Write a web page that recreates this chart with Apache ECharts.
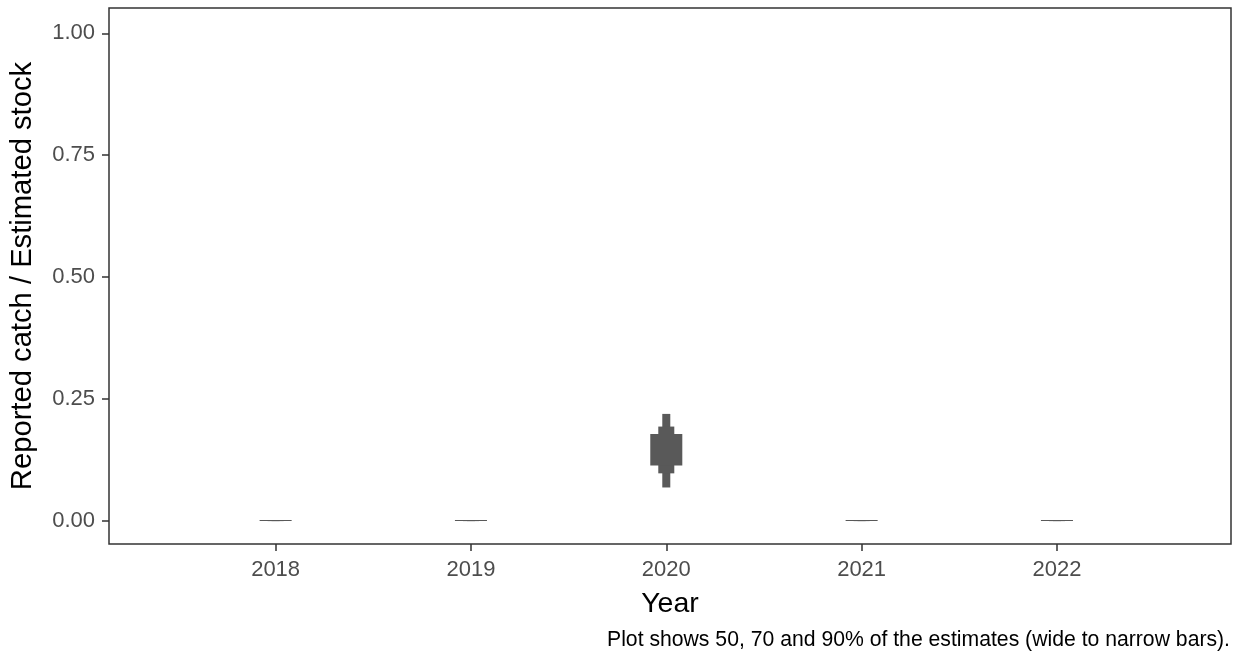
<!DOCTYPE html>
<html>
<head>
<meta charset="utf-8">
<script src="https://cdn.jsdelivr.net/npm/echarts@6/dist/echarts.min.js"></script>
<style>
html,body{margin:0;padding:0;background:#fff;}
#chart{width:1236px;height:654px;}
</style>
</head>
<body>
<div id="chart"></div>
<script>
// Data
const years = [2018, 2019, 2020, 2021, 2022];
const lo90 = [0, 0, 0.068, 0, 0];
const hi90 = [0, 0, 0.219, 0, 0];
const lo70 = [0, 0, 0.097, 0, 0];
const hi70 = [0, 0, 0.193, 0, 0];
const lo50 = [0, 0, 0.113, 0, 0];
const hi50 = [0, 0, 0.178, 0, 0];
const yTicks = [0, 0.25, 0.5, 0.75, 1];
const xTicks = [2018, 2019, 2020, 2021, 2022];

const FONT = '"Liberation Sans", Arial, sans-serif';
// bar widths in years: wide (50%), medium (70%), narrow (90%)
const widths = {w50: 0.164, w70: 0.082, w90: 0.041};

const rows = [];
years.forEach((y, i) => {
  rows.push([y, lo90[i], hi90[i], widths.w90]);
  rows.push([y, lo70[i], hi70[i], widths.w70]);
  rows.push([y, lo50[i], hi50[i], widths.w50]);
});

const chart = echarts.init(document.getElementById('chart'), null, {renderer: 'canvas'});
chart.setOption({
  animation: false,
  backgroundColor: '#fff',
  grid: {left: 109, right: 5, top: 8, bottom: 110, show: true, borderColor: '#333333', borderWidth: 1.5, backgroundColor: 'transparent'},
  xAxis: {
    type: 'value', min: 2017.147, max: 2022.891,
    name: 'Year', nameLocation: 'middle', nameGap: 46,
    nameTextStyle: {fontFamily: FONT, fontSize: 28.5, color: '#000'},
    axisLine: {show: false, onZero: false},
    splitLine: {show: false},
    axisTick: {show: true, length: 7, lineStyle: {color: '#333333', width: 1.5}, customValues: xTicks},
    axisLabel: {fontFamily: FONT, fontSize: 22, color: '#4d4d4d', margin: 15, customValues: xTicks, formatter: v => String(v)}
  },
  yAxis: {
    type: 'value', min: -0.048, max: 1.052,
    name: 'Reported catch / Estimated stock', nameLocation: 'middle', nameGap: 72, nameRotate: 90,
    nameTextStyle: {fontFamily: FONT, fontSize: 29.2, color: '#000'},
    axisLine: {show: false, onZero: false},
    splitLine: {show: false},
    axisTick: {show: true, length: 7, lineStyle: {color: '#333333', width: 1.5}, customValues: yTicks},
    axisLabel: {fontFamily: FONT, fontSize: 22, color: '#4d4d4d', margin: 14, customValues: yTicks, formatter: v => v.toFixed(2)}
  },
  series: [{
    type: 'custom',
    data: rows,
    renderItem: function (params, api) {
      const x = api.value(0), lo = api.value(1), hi = api.value(2), w = api.value(3);
      const pLo = api.coord([x, lo]);
      const pHi = api.coord([x, hi]);
      const pw = api.size([w, 0])[0];
      let h = pLo[1] - pHi[1];
      let top = pHi[1];
      if (h < 1) { top = pHi[1] - 0.5; h = 1; }
      return {
        type: 'rect',
        shape: {x: pLo[0] - pw / 2, y: top, width: pw, height: h},
        style: {fill: '#595959'}
      };
    }
  }],
  graphic: [{
    type: 'text', right: 6, top: 630,
    style: {text: 'Plot shows 50, 70 and 90% of the estimates (wide to narrow bars).', font: '21.2px ' + FONT, fill: '#000'}
  }]
});
</script>
</body>
</html>
